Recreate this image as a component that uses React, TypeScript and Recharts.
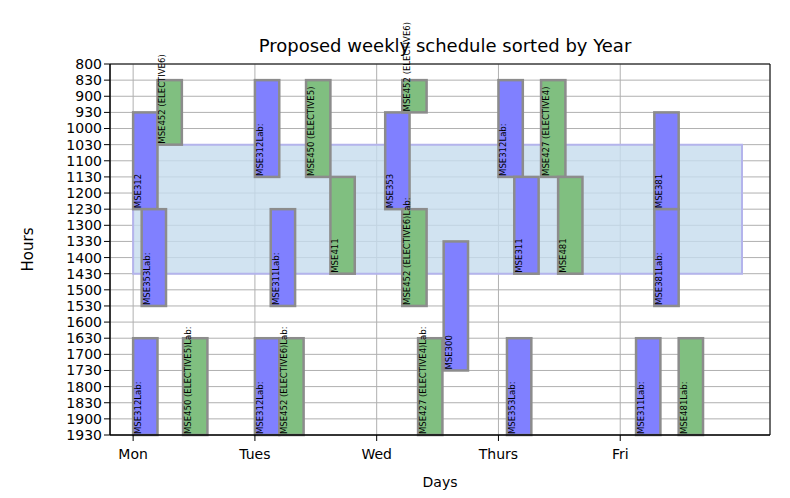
import React from 'react';
import { ScatterChart, XAxis, YAxis, CartesianGrid, ReferenceArea, Label } from 'recharts';

const dayLabels = ['Mon', 'Tues', 'Wed', 'Thurs', 'Fri'];
const hourLabels = ['800','830','900','930','1000','1030','1100','1130','1200','1230','1300','1330','1400','1430','1500','1530','1600','1630','1700','1730','1800','1830','1900','1930'];

const courseNames = [
  'MSE312','MSE353Lab:','MSE452 (ELECTIVE6)','MSE312Lab:','MSE450 (ELECTIVE5)Lab:',
  'MSE312Lab:','MSE450 (ELECTIVE5)','MSE311Lab:','MSE411','MSE312Lab:','MSE452 (ELECTIVE6)Lab:',
  'MSE353','MSE452 (ELECTIVE6)','MSE452 (ELECTIVE6)Lab:','MSE300','MSE427 (ELECTIVE4)Lab:',
  'MSE312Lab:','MSE427 (ELECTIVE4)','MSE311','MSE481','MSE353Lab:',
  'MSE381','MSE381Lab:','MSE311Lab:','MSE481Lab:',
];
const courseX = [0,0.07,0.2,0,0.41, 1,1.42,1.13,1.62,1,1.2, 2.07,2.21,2.21,2.55,2.34, 3,3.35,3.13,3.49,3.07, 4.28,4.28,4.13,4.48];
const courseStart = ['930','1230','830','1630','1630', '830','830','1230','1130','1630','1630', '930','830','1230','1330','1630', '830','830','1130','1130','1630', '930','1230','1630','1630'];
const courseEnd = ['1230','1530','1030','1930','1930', '1130','1130','1530','1430','1930','1930', '1230','930','1530','1730','1930', '1130','1130','1430','1430','1930', '1230','1530','1930','1930'];
const courseKind = ['b','b','g','b','g', 'b','g','b','g','b','g', 'b','g','g','b','g', 'b','g','b','g','b', 'b','b','b','g'];
const barWidth = 0.2;

const regionX = [0, 5];
const regionY = ['1030', '1430'];

const idx = (h: string) => hourLabels.indexOf(h);

const BarShape = (text: string, fill: string) => (p: any) => {
  const { x, y, width, height } = p;
  const tx = x + 5;
  const ty = y + height - 1;
  return (
    <g>
      <rect x={x} y={y} width={width} height={height} fill={fill} stroke="#8c8c8c" strokeWidth={2.5} />
      <text x={tx} y={ty} transform={`rotate(-90, ${tx}, ${ty})`} fontSize={8.5} fill="#000" dominantBaseline="central" textAnchor="start">{text}</text>
    </g>
  );
};

export default function App() {
  return (
    <div style={{ fontFamily: 'DejaVu Sans' }}>
      <ScatterChart width={790} height={498} margin={{ top: 56, right: 28, bottom: 41, left: 42 }} style={{ overflow: 'visible' }}>
        <text x={437} y={44} textAnchor="middle" fontSize={18} fill="#000">Proposed weekly schedule sorted by Year</text>
        <CartesianGrid stroke="#b0b0b0" strokeWidth={1} />
        <XAxis type="number" dataKey="x" domain={[-0.19, 5.23]} ticks={[0,1,2,3,4]} tickFormatter={(v: number) => dayLabels[v]} height={30} tick={{ fill: '#000', fontSize: 14, dy: 6 }} tickLine={{ stroke: '#000' }} axisLine={{ stroke: '#000' }} allowDataOverflow>
          <Label value="Days" position="insideBottom" offset={-22} fontSize={14} fill="#000" />
        </XAxis>
        <YAxis type="number" dataKey="y" domain={[0, 23]} reversed ticks={hourLabels.map((_, i) => i)} interval={0} tickFormatter={(v: number) => hourLabels[v]} width={60} tick={{ fill: '#000', fontSize: 14 }} tickLine={{ stroke: '#000' }} axisLine={{ stroke: '#000' }} allowDataOverflow>
          <Label value="Hours" angle={-90} position="insideLeft" offset={-22} fontSize={15} fill="#000" style={{ textAnchor: 'middle' }} />
        </YAxis>
        <ReferenceArea x1={regionX[0]} x2={regionX[1]} y1={idx(regionY[0])} y2={idx(regionY[1])} fill="#c6dcee" fillOpacity={0.8} stroke="#b4b4ec" strokeWidth={2} ifOverflow="visible" />
        {courseNames.map((n, i) => (
          <ReferenceArea key={i} x1={courseX[i]} x2={courseX[i] + barWidth} y1={idx(courseStart[i])} y2={idx(courseEnd[i])} ifOverflow="visible"
            shape={BarShape(n, courseKind[i] === 'b' ? '#8080ff' : '#80bf80')} />
        ))}
        <ReferenceArea x1={-0.19} x2={5.23} y1={0} y2={23} fill="none" stroke="#000" strokeWidth={1} ifOverflow="visible" />
      </ScatterChart>
    </div>
  );
}
